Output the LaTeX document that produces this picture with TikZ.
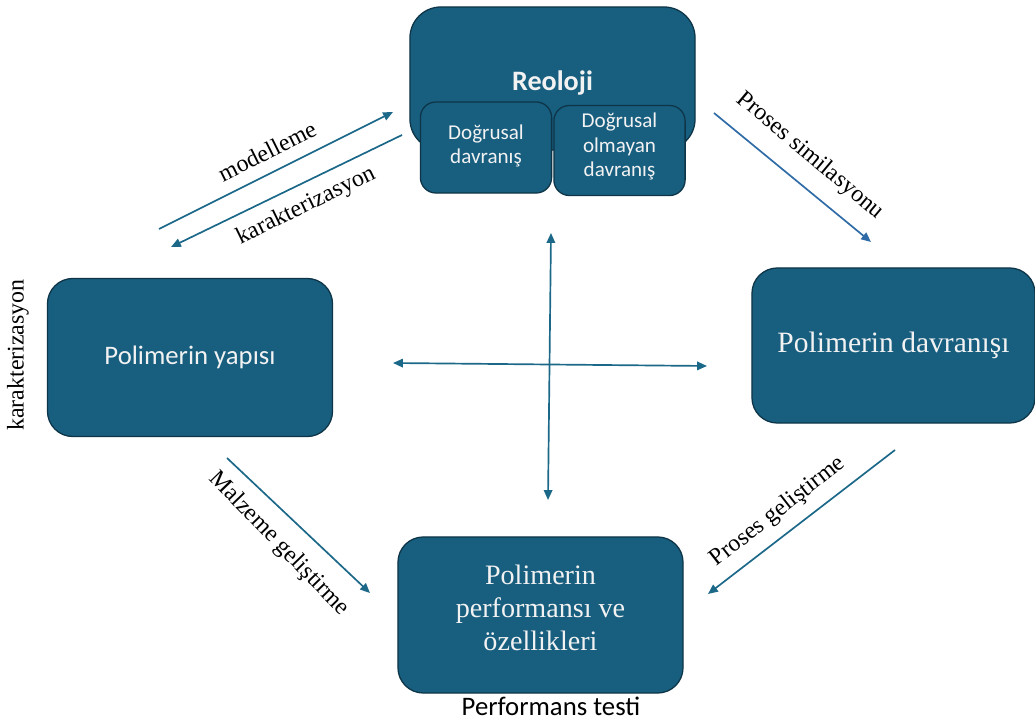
\documentclass[tikz,border=0pt]{standalone}
\usepackage{fontspec}
\setmainfont{Liberation Serif}
\setsansfont{Carlito}
\usepackage{xcolor}
\usetikzlibrary{positioning, arrows.meta}

\definecolor{boxfill}{HTML}{175E7F}
\definecolor{boxline}{HTML}{0E3547}
\definecolor{arrowcol}{HTML}{1C6889}
\definecolor{arrowblue}{HTML}{2F6BA6}
\definecolor{boxtext}{HTML}{F2F2F2}

\begin{document}
\begin{tikzpicture}[
    x=0.025cm, y=-0.025cm,
    box/.style={
        draw=boxline, line width=0.9pt, fill=boxfill, rounded corners=18pt,
        text=boxtext, align=center, inner sep=0pt,
        minimum width=7.125cm, minimum height=3.95cm,
    },
    sub/.style={
        draw=boxline, line width=0.9pt, fill=boxfill, rounded corners=11pt,
        text=boxtext, align=center, inner sep=0pt,
        font=\sffamily\fontsize{15}{17.5}\selectfont,
        minimum width=3.28cm, minimum height=2.25cm,
    },
    arrow/.style={-{Triangle[length=7pt,width=6pt]}, draw=arrowcol, line width=1.2pt},
    biarr/.style={{Triangle[length=7pt,width=6pt]}-{Triangle[length=7pt,width=6pt]}, draw=arrowcol, line width=1.2pt},
    lbl/.style={font=\fontsize{17}{20}\selectfont, inner sep=0pt},
]
\useasboundingbox (0,0) rectangle (1035,722);

% ── Reoloji block with its two sub boxes ─────────────────────────────
\node[box, rounded corners=22pt, minimum height=3.575cm, text height=20pt,
      font=\sffamily\bfseries\fontsize{20}{24}\selectfont] (reo) at (552.5,78.5) {Reoloji};
\node[sub, minimum height=2.275cm, text depth=5pt] (lin) at (486,147.5) {Doğrusal\\davranış};
\node[sub, text depth=8pt] (nonlin) at (619.5,150.5) {Doğrusal\\olmayan\\davranış};

% ── Main boxes ───────────────────────────────────────────────────────
\node[box, font=\sffamily\fontsize{19}{23}\selectfont] (yapi) at (190,357.5) {Polimerin yapısı};
\node[box, minimum width=7.075cm, minimum height=3.875cm,
      font=\fontsize{21}{25}\selectfont] (davr) at (893.5,345.5) {Polimerin davranışı};
\node[box, minimum height=3.9cm, text depth=10pt, font=\fontsize{20}{23.4}\selectfont] (perf) at (540.5,615)
    {Polimerin\\performansı ve\\özellikleri};
\node[font=\sffamily\fontsize{19}{23}\selectfont, inner sep=0pt] (test) at (551,706) {Performans testi};

% ── Free arrow ends ──────────────────────────────────────────────────
\coordinate (mA) at (159,229);  \coordinate (mB) at (393,112);
\coordinate (kA) at (402,135);  \coordinate (kB) at (171,247);
\coordinate (sA) at (714,113);  \coordinate (sB) at (871,242);
\coordinate (gA) at (227,458);  \coordinate (gB) at (370,593);
\coordinate (pA) at (895,450);  \coordinate (pB) at (708,594);
\coordinate (hL) at (393,363);  \coordinate (hR) at (707,366);
\coordinate (vT) at (551,233);  \coordinate (vB) at (548,500);

% ── Edges ────────────────────────────────────────────────────────────
\draw[arrow] (mA) -- (mB);
\draw[arrow] (kA) -- (kB);
\draw[arrow, draw=arrowblue] (sA) -- (sB);
\draw[arrow] (gA) -- (gB);
\draw[arrow] (pA) -- (pB);
\draw[biarr] (hL) -- (hR);
\draw[biarr] (vT) -- (vB);

% ── Labels ───────────────────────────────────────────────────────────
\node[lbl, rotate=26.5] (lmod)  at (267,151) {modelleme};
\node[lbl, rotate=26]   (lkar)  at (306,206) {karakterizasyon};
\node[lbl, rotate=-40]  (lsim)  at (810,156) {Proses similasyonu};
\node[lbl, rotate=-46]  (lmal)  at (279,544) {Malzeme geliştirme};
\node[lbl, rotate=38]   (lpro)  at (778,512) {Proses geliştirme};
\node[lbl, rotate=90]   (lkar2) at (18,355)  {karakterizasyon};

\end{tikzpicture}
\end{document}
